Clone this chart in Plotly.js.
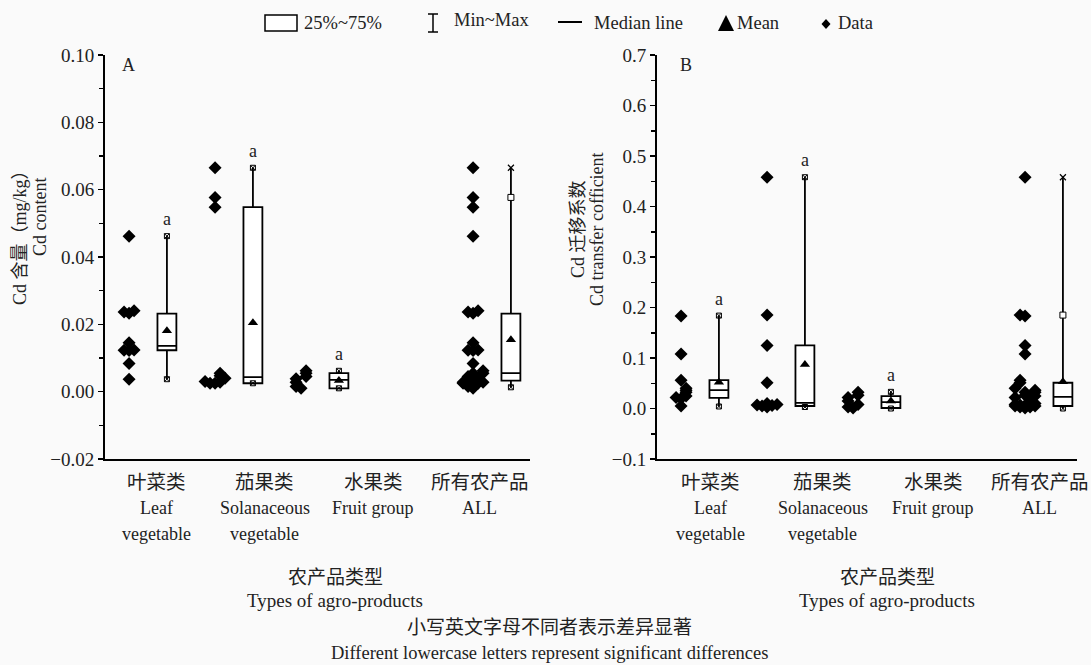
<!DOCTYPE html>
<html>
<head>
<meta charset="utf-8">
<script src="https://cdn.plot.ly/plotly-3.0.1.min.js"></script>
<style>html,body{margin:0;padding:0;background:#fafafa;}#chart{width:1091px;height:665px;}</style>
</head>
<body>
<div id="chart"></div>
<script>
// ---------- data ----------
const catCN = ['叶菜类', '茄果类', '水果类', '所有农产品'];
const catEN1 = ['Leaf', 'Solanaceous', 'Fruit group', 'ALL'];
const catEN2 = ['vegetable', 'vegetable', '', ''];

// Panel A : Cd content (mg/kg)
const leafA  = [0.0462, 0.0240, 0.0237, 0.0233, 0.0145, 0.0124, 0.0123, 0.0122, 0.0084, 0.0037];
const solA   = [0.0665, 0.0577, 0.0548, 0.0055, 0.0047, 0.0040, 0.0030, 0.0028, 0.0025, 0.0025];
const fruitA = [0.0062, 0.0055, 0.0045, 0.0038, 0.0028, 0.0015, 0.0010];
const q1A     = [0.0123, 0.0025, 0.0010, 0.0033];
const medianA = [0.0136, 0.0043, 0.0035, 0.0055];
const q3A     = [0.0232, 0.0548, 0.0055, 0.0232];
const minA    = [0.0037, 0.0025, 0.0010, 0.0013];
const maxA    = [0.0462, 0.0665, 0.0062, 0.0665];
const meanA   = [0.0181, 0.0205, 0.0033, 0.0154];
const p99A    = [null, null, null, 0.0577];
const sigA    = ['a', 'a', 'a', ''];

// Panel B : Cd transfer coefficient
const leafB  = [0.183, 0.108, 0.056, 0.040, 0.036, 0.032, 0.025, 0.022, 0.020, 0.005];
const solB   = [0.458, 0.185, 0.125, 0.051, 0.010, 0.008, 0.007, 0.006, 0.005, 0.003];
const fruitB = [0.032, 0.026, 0.022, 0.015, 0.008, 0.003, 0.001];
const q1B     = [0.021, 0.005, 0.001, 0.005];
const medianB = [0.0364, 0.011, 0.0126, 0.0232];
const q3B     = [0.056, 0.125, 0.0245, 0.051];
const minB    = [0.004, 0.003, 0.000, 0.000];
const maxB    = [0.184, 0.458, 0.033, 0.458];
const meanB   = [0.052, 0.087, 0.015, 0.053];
const p99B    = [null, null, null, 0.185];
const sigB    = ['a', 'a', 'a', ''];

// ---------- layout helpers ----------
const W = 1091, H = 665;
const PX = x => x / W, PY = y => 1 - y / H;
const FONT = 'Liberation Serif, "Noto Sans CJK SC", serif';
const TICKFONT = 'Liberation Serif';
const slots = [0, 1, 2, 4];
const boxOff = 0.72, ptOff = 0.28, unit = 86;
const boxPos = slots.map(s => s + boxOff);
const ptPos = slots.map(s => s + ptOff);

function swarm(vals, thr, step) {
  const placed = [];
  const seq = [0, -1, 1, -2, 2];
  return vals.map(v => {
    const n = placed.filter(p => Math.abs(p - v) < thr).length;
    placed.push(v);
    return seq[n % seq.length] * step;
  });
}

function panel(groups, stats, xa, ya, yrange, yheightPx) {
  const traces = [];
  const thr = (yrange[1] - yrange[0]) * 6 / yheightPx;
  const step = 5 / unit;
  const px = [], py = [];
  groups.forEach((g, i) => {
    const sorted = g.slice().sort((a, b) => a - b);
    const offs = swarm(sorted, thr, step);
    sorted.forEach((v, j) => { px.push(ptPos[i] + offs[j]); py.push(v); });
  });
  traces.push({type: 'scatter', mode: 'markers', x: px, y: py, xaxis: xa, yaxis: ya,
    marker: {symbol: 'diamond', size: 10, color: '#000'}, hoverinfo: 'y', showlegend: false});
  traces.push({type: 'box', x: boxPos, q1: stats.q1, median: stats.median, q3: stats.q3,
    lowerfence: stats.min, upperfence: stats.max, xaxis: xa, yaxis: ya, width: 0.22,
    whiskerwidth: 0, fillcolor: '#fff', line: {color: '#000', width: 1.8}, boxpoints: false, showlegend: false});
  traces.push({type: 'scatter', mode: 'markers', x: boxPos, y: stats.mean, xaxis: xa, yaxis: ya,
    marker: {symbol: 'triangle-up', size: 9, color: '#000'}, showlegend: false});
  traces.push({type: 'scatter', mode: 'markers', x: boxPos.concat(boxPos.slice(0, 3)),
    y: stats.min.concat(stats.max.slice(0, 3)), xaxis: xa, yaxis: ya,
    marker: {symbol: 'square-x-open', size: 5, color: '#000', line: {width: 1}}, showlegend: false});
  traces.push({type: 'scatter', mode: 'markers', x: [boxPos[3]], y: [stats.max[3]], xaxis: xa, yaxis: ya,
    marker: {symbol: 'x-thin-open', size: 6, color: '#000', line: {width: 1.2}}, showlegend: false});
  traces.push({type: 'scatter', mode: 'markers', x: boxPos, y: stats.p99, xaxis: xa, yaxis: ya,
    marker: {symbol: 'square', size: 6, color: '#fff', line: {width: 1, color: '#000'}}, showlegend: false});
  return traces;
}

const yrA = [-0.02, 0.10], yrB = [-0.1, 0.7];
const data = [].concat(
  panel([leafA, solA, fruitA, leafA.concat(solA, fruitA)],
    {q1: q1A, median: medianA, q3: q3A, min: minA, max: maxA, mean: meanA, p99: p99A}, 'x', 'y', yrA, 404),
  panel([leafB, solB, fruitB, leafB.concat(solB, fruitB)],
    {q1: q1B, median: medianB, q3: q3B, min: minB, max: maxB, mean: meanB, p99: p99B}, 'x2', 'y2', yrB, 403)
);

const yDomain = [PY(459), PY(55)];
function xax(d0, d1, anchor) {
  return {domain: [PX(d0), PX(d1)], range: [0, (d1 - d0) / unit], anchor: anchor,
    showline: true, linecolor: '#000', linewidth: 2, ticks: '', showticklabels: false,
    showgrid: false, zeroline: false, fixedrange: true};
}
function yax(range, dtick, fmt, anchor) {
  return {domain: yDomain, range: range, anchor: anchor, dtick: dtick, tick0: 0, tickformat: fmt,
    showline: true, linecolor: '#000', linewidth: 2, ticks: 'outside', ticklen: 5, tickwidth: 1.5,
    tickcolor: '#000', showgrid: false, zeroline: false,
    tickfont: {family: TICKFONT, size: 19, color: '#222'},
    minor: {dtick: dtick / 2, ticks: 'outside', ticklen: 4, tickwidth: 1.5, tickcolor: '#000', showgrid: false}};
}

const ann = [];
const shapes = [];
function txt(x, y, text, size, opts) {
  ann.push(Object.assign({xref: 'paper', yref: 'paper', x: PX(x), y: PY(y), text: text, showarrow: false,
    font: {family: FONT, size: size, color: '#222'}, xanchor: 'center', yanchor: 'middle'}, opts || {}));
}

// category labels
const labelPosA = [0.60, 1.86, 3.12, 4.36];
const labelPosB = [0.62, 1.93, 3.21, 4.45];
[['x', labelPosA], ['x2', labelPosB]].forEach(([xr, lp]) => {
  lp.forEach((p, i) => {
    const base = {xref: xr, yref: 'paper', x: p, showarrow: false, xanchor: 'center', yanchor: 'middle'};
    ann.push(Object.assign({}, base, {y: PY(482), text: catCN[i], font: {family: FONT, size: 19.5, color: '#222'}}));
    ann.push(Object.assign({}, base, {y: PY(508), text: catEN1[i], font: {family: FONT, size: 18, color: '#222'}}));
    if (catEN2[i]) ann.push(Object.assign({}, base, {y: PY(534), text: catEN2[i], font: {family: FONT, size: 18, color: '#222'}}));
  });
});

// significance letters
[[sigA, maxA, 'x', 'y'], [sigB, maxB, 'x2', 'y2']].forEach(([sig, mx, xr, yr]) => {
  sig.forEach((s, i) => {
    if (s) ann.push({xref: xr, yref: yr, x: boxPos[i], y: mx[i], yshift: 17, text: s, showarrow: false,
      font: {family: FONT, size: 18, color: '#222'}});
  });
});

// panel letters
txt(128, 65, 'A', 18);
txt(686, 65, 'B', 18);

// axis titles
txt(20, 233, 'Cd 含量（mg/kg）', 18, {textangle: -90});
txt(40, 217, 'Cd content', 18, {textangle: -90});
txt(578, 229, 'Cd 迁移系数', 18, {textangle: -90});
txt(597, 229, 'Cd transfer cofficient', 18, {textangle: -90});
txt(335, 577, '农产品类型', 19);
txt(335, 600, 'Types of agro-products', 19);
txt(887, 577, '农产品类型', 19);
txt(887, 600, 'Types of agro-products', 19);
txt(549, 627, '小写英文字母不同者表示差异显著', 19);
txt(549, 653, 'Different lowercase letters represent significant differences', 18.5);

// legend
shapes.push({type: 'rect', xref: 'paper', yref: 'paper', x0: PX(265), x1: PX(297), y0: PY(31), y1: PY(15),
  line: {color: '#000', width: 1.5}, fillcolor: '#fff'});
txt(302, 23, '25%~75%', 18.5, {xanchor: 'left'});
[[433, 14, 433, 32], [428, 14, 438, 14], [428, 32, 438, 32]].forEach(s => shapes.push({type: 'line',
  xref: 'paper', yref: 'paper', x0: PX(s[0]), y0: PY(s[1]), x1: PX(s[2]), y1: PY(s[3]), line: {color: '#000', width: 1.5}}));
txt(452, 20, 'Min~Max', 18.5, {xanchor: 'left'});
shapes.push({type: 'line', xref: 'paper', yref: 'paper', x0: PX(558), x1: PX(582), y0: PY(22), y1: PY(22),
  line: {color: '#000', width: 2}});
txt(592, 23, 'Median line', 18.5, {xanchor: 'left'});
shapes.push({type: 'path', xref: 'paper', yref: 'paper',
  path: `M ${PX(718)} ${PY(31)} L ${PX(734)} ${PY(31)} L ${PX(726)} ${PY(15)} Z`, fillcolor: '#000', line: {width: 0}});
txt(735, 23, 'Mean', 18.5, {xanchor: 'left'});
shapes.push({type: 'path', xref: 'paper', yref: 'paper',
  path: `M ${PX(826)} ${PY(19)} L ${PX(830.5)} ${PY(24)} L ${PX(826)} ${PY(29)} L ${PX(821.5)} ${PY(24)} Z`, fillcolor: '#000', line: {width: 0}});
txt(836, 23, 'Data', 18.5, {xanchor: 'left'});

const layout = {
  width: W, height: H, margin: {l: 0, r: 0, t: 0, b: 0},
  paper_bgcolor: '#fafafa', plot_bgcolor: '#fafafa', showlegend: false,
  xaxis: xax(105, 530, 'y'), yaxis: yax(yrA, 0.02, '.2f', 'x'),
  xaxis2: xax(657, 1077, 'y2'), yaxis2: yax(yrB, 0.1, '.1f', 'x2'),
  annotations: ann, shapes: shapes, font: {family: FONT}
};
Plotly.newPlot('chart', data, layout, {displayModeBar: false, staticPlot: true});
</script>
</body>
</html>
